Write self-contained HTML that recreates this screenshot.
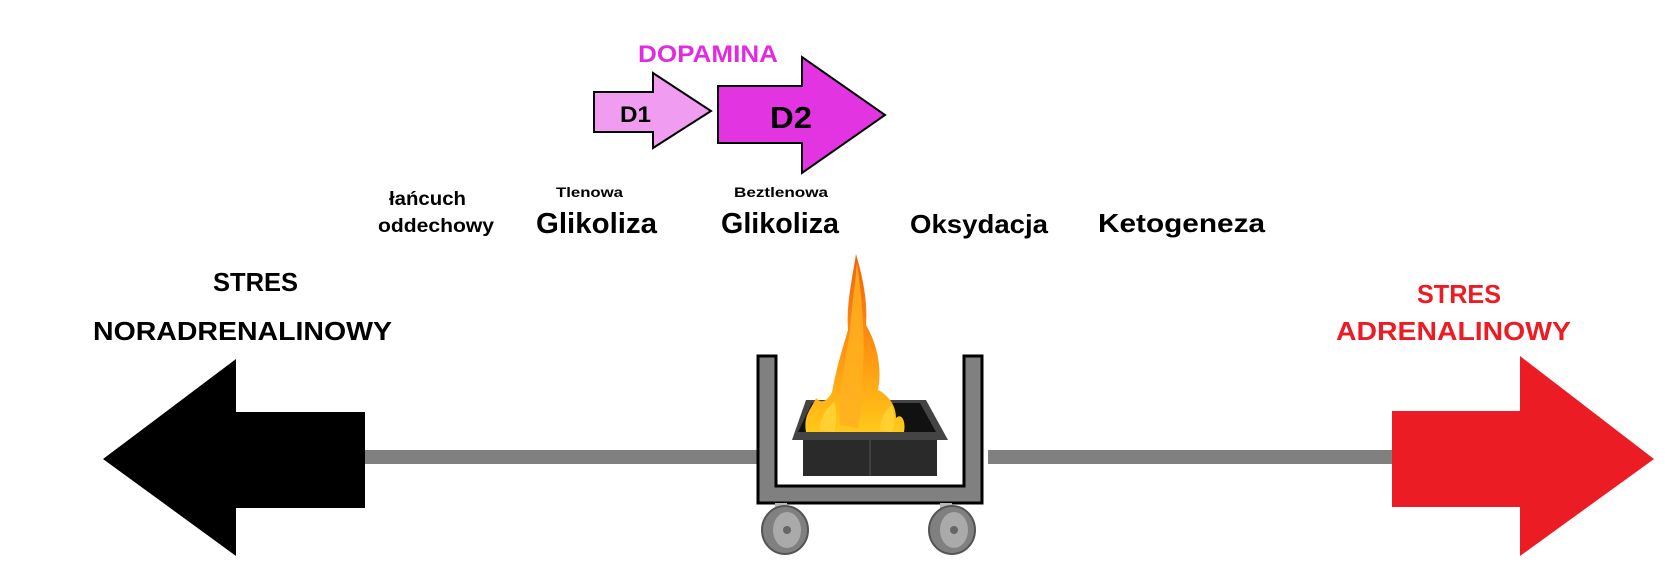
<!DOCTYPE html>
<html><head><meta charset="utf-8"><style>
html,body{margin:0;padding:0;background:#fff;}
svg{display:block;}
text{font-family:"Liberation Sans",sans-serif;font-weight:bold;}
</style></head><body>
<svg width="1665" height="581" viewBox="0 0 1665 581" xmlns="http://www.w3.org/2000/svg">
<defs>
<linearGradient id="fl" x1="0" y1="1" x2="0" y2="0">
<stop offset="0" stop-color="#ffc81a"/><stop offset="0.5" stop-color="#ff9010"/><stop offset="1" stop-color="#f06010"/>
</linearGradient>
</defs>
<rect x="360" y="450" width="402" height="14" fill="#808080"/>
<rect x="988" y="450" width="406" height="14" fill="#808080"/>
<polygon points="103,459 236,359 236,412 365,412 365,508 236,508 236,556" fill="#000"/>
<polygon points="1392,411 1520,411 1520,356 1654,459 1520,556 1520,507 1392,507" fill="#ec1c24"/>
<polygon points="594,92 653,92 653,73 711,111 653,148 653,132 594,132" fill="#f09cf0" stroke="#000" stroke-width="2"/>
<polygon points="718,86 802,86 802,57 885,115 802,173 802,143 718,143" fill="#e234e0" stroke="#000" stroke-width="2"/>
<text x="638" y="62" font-size="24" fill="#e22be0" textLength="140" lengthAdjust="spacingAndGlyphs">DOPAMINA</text>
<text x="620" y="122" font-size="22" fill="#000" textLength="31" lengthAdjust="spacingAndGlyphs">D1</text>
<text x="770" y="128" font-size="31" fill="#000" textLength="42" lengthAdjust="spacingAndGlyphs">D2</text>
<text x="389" y="205" font-size="19" fill="#000" textLength="77" lengthAdjust="spacingAndGlyphs">łańcuch</text>
<text x="378" y="232" font-size="19" fill="#000" textLength="116" lengthAdjust="spacingAndGlyphs">oddechowy</text>
<text x="556" y="197" font-size="14" fill="#000" textLength="67" lengthAdjust="spacingAndGlyphs">Tlenowa</text>
<text x="734" y="197" font-size="14" fill="#000" textLength="94" lengthAdjust="spacingAndGlyphs">Beztlenowa</text>
<text x="536" y="233" font-size="29" fill="#000" textLength="121" lengthAdjust="spacingAndGlyphs">Glikoliza</text>
<text x="721" y="233" font-size="29" fill="#000" textLength="118" lengthAdjust="spacingAndGlyphs">Glikoliza</text>
<text x="910" y="233" font-size="26" fill="#000" textLength="138" lengthAdjust="spacingAndGlyphs">Oksydacja</text>
<text x="1098" y="232" font-size="26" fill="#000" textLength="167" lengthAdjust="spacingAndGlyphs">Ketogeneza</text>
<text x="213" y="291" font-size="26" fill="#000" textLength="85" lengthAdjust="spacingAndGlyphs">STRES</text>
<text x="93" y="340" font-size="26" fill="#000" textLength="299" lengthAdjust="spacingAndGlyphs">NORADRENALINOWY</text>
<text x="1417" y="303" font-size="26" fill="#ec1c24" textLength="84" lengthAdjust="spacingAndGlyphs">STRES</text>
<text x="1336" y="340" font-size="26" fill="#ec1c24" textLength="235" lengthAdjust="spacingAndGlyphs">ADRENALINOWY</text>
<path d="M758,356 H776 V486 H964 V356 H982 V503 H758 Z" fill="#808080" stroke="#000" stroke-width="3"/>
<g>
<rect x="775" y="503" width="12" height="22" fill="#b8b8b8"/>
<ellipse cx="785" cy="530" rx="23" ry="24" fill="#808080" stroke="#555" stroke-width="2"/>
<ellipse cx="787" cy="530" rx="14" ry="18" fill="#aaa"/>
<circle cx="787" cy="530" r="4" fill="#666"/>
<rect x="940" y="503" width="12" height="22" fill="#b8b8b8"/>
<ellipse cx="952" cy="530" rx="23" ry="24" fill="#808080" stroke="#555" stroke-width="2"/>
<ellipse cx="954" cy="530" rx="14" ry="18" fill="#aaa"/>
<circle cx="954" cy="530" r="4" fill="#666"/>
</g>
<polygon points="803,440 937,440 937,476 803,476" fill="#2a2a2a"/>
<polygon points="806,400 926,400 948,440 792,440" fill="#444"/>
<polygon points="812,403 920,403 936,432 798,432" fill="#111"/>
<line x1="870" y1="440" x2="870" y2="476" stroke="#555" stroke-width="1"/>
<path d="M806,432 C803,415 812,408 816,398 C822,405 828,400 832,392 C836,370 842,350 848,330 C846,305 852,280 856,254 C862,275 868,300 866,325 C878,345 882,370 878,390 C888,395 896,405 896,418 C902,412 906,422 904,432 Z" fill="url(#fl)"/>
<path d="M840,425 C838,395 846,360 850,330 C852,305 855,285 857,262 C862,300 866,340 862,380 C864,400 860,415 858,428 Z" fill="#ffb020" opacity="0.85"/>
<path d="M820,430 C820,415 828,408 834,402 C838,415 836,425 834,432 Z M880,430 C880,418 886,410 892,405 C896,418 894,426 892,432 Z" fill="#ffd030"/>
</svg>
</body></html>
